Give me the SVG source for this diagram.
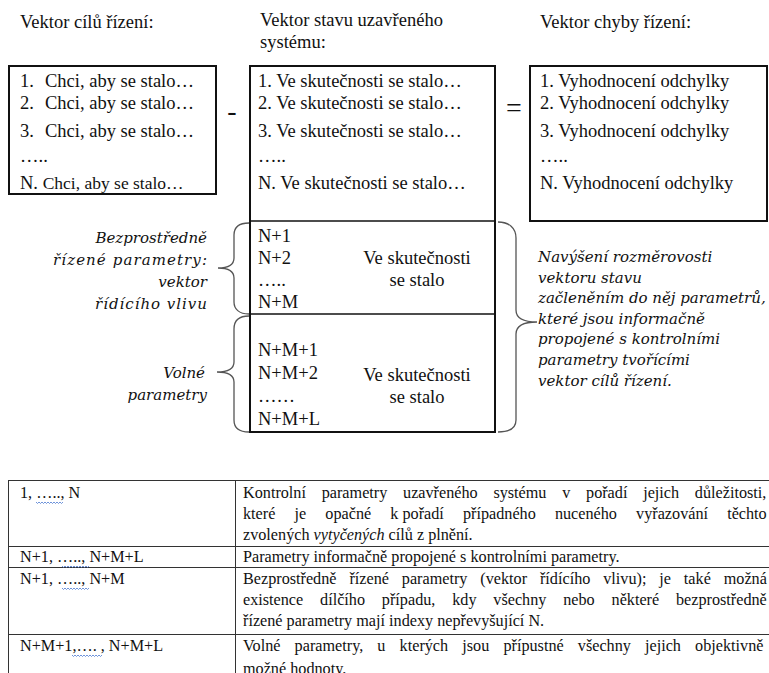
<svg xmlns="http://www.w3.org/2000/svg" width="769" height="673" viewBox="0 0 769 673">
<style>
  .t{font-family:"Liberation Serif","Times New Roman",serif;font-size:18.5px;fill:#111}
  .s{font-family:"Liberation Serif","Times New Roman",serif;font-size:16.2px;fill:#111}
  .it{font-family:"DejaVu Serif",serif;font-style:italic;font-size:15px;fill:#111}
  .box{fill:#fff;stroke:#111;stroke-width:2}
  .div{stroke:#111;stroke-width:1.5;fill:none}
  .brace{fill:none;stroke:#555;stroke-width:1.3}
  .tl{stroke:#333;stroke-width:1;fill:none}
  .wavy{fill:none;stroke:#4a78d0;stroke-width:0.8}
</style>
<rect width="769" height="673" fill="#fff"/>

<g id="goal-vector">
  <text class="t" x="20" y="28">Vektor cílů řízení:</text>
  <rect class="box" x="9" y="66" width="207" height="128"/>
  <text class="t" x="20" y="87">1.<tspan x="45">Chci, aby se stalo…</tspan></text>
  <text class="t" x="20" y="109">2.<tspan x="45">Chci, aby se stalo…</tspan></text>
  <text class="t" x="20" y="137">3.<tspan x="45">Chci, aby se stalo…</tspan></text>
  <text class="t" x="20" y="162">…..</text>
  <text class="t" x="20" y="189">N. <tspan style="font-size:17.5px">Chci, aby se stalo…</tspan></text>
</g>

<g id="op-minus">
  <text class="t" x="232" y="120" text-anchor="middle" style="font-size:28px">-</text>
</g>

<g id="state-vector">
  <text class="t" x="260" y="26">Vektor stavu uzavřeného</text>
  <text class="t" x="260" y="48">systému:</text>
  <rect class="box" x="250" y="66" width="245" height="366"/>
  <line class="div" x1="250" y1="221" x2="495" y2="221"/>
  <line class="div" x1="250" y1="314" x2="495" y2="314"/>
  <text class="t" x="258" y="87">1. Ve skutečnosti se stalo…</text>
  <text class="t" x="258" y="109">2. Ve skutečnosti se stalo…</text>
  <text class="t" x="258" y="137">3. Ve skutečnosti se stalo…</text>
  <text class="t" x="258" y="162">…..</text>
  <text class="t" x="258" y="189">N. Ve skutečnosti se stalo…</text>
  <text class="t" x="258" y="242">N+1</text>
  <text class="t" x="258" y="264">N+2</text>
  <text class="t" x="258" y="286">…..</text>
  <text class="t" x="258" y="308">N+M</text>
  <text class="t" x="417" y="264" text-anchor="middle">Ve skutečnosti</text>
  <text class="t" x="417" y="286" text-anchor="middle">se stalo</text>
  <text class="t" x="258" y="356">N+M+1</text>
  <text class="t" x="258" y="379">N+M+2</text>
  <text class="t" x="258" y="402">……</text>
  <text class="t" x="258" y="425">N+M+L</text>
  <text class="t" x="417" y="381" text-anchor="middle">Ve skutečnosti</text>
  <text class="t" x="417" y="403" text-anchor="middle">se stalo</text>
</g>

<g id="op-equals">
  <text class="t" x="514" y="117" text-anchor="middle" style="font-size:28px">=</text>
</g>

<g id="error-vector">
  <text class="t" x="540" y="28">Vektor chyby řízení:</text>
  <rect class="box" x="530" y="66" width="237" height="155"/>
  <text class="t" x="540" y="87">1. Vyhodnocení odchylky</text>
  <text class="t" x="540" y="109">2. Vyhodnocení odchylky</text>
  <text class="t" x="540" y="137">3. Vyhodnocení odchylky</text>
  <text class="t" x="540" y="162">…..</text>
  <text class="t" x="540" y="189">N. Vyhodnocení odchylky</text>
</g>

<g id="label-direct">
  <text class="it" x="207" y="243" text-anchor="end">Bezprostředně</text>
  <text class="it" x="53" y="265" textLength="154" lengthAdjust="spacing">řízené parametry:</text>
  <text class="it" x="207" y="287" text-anchor="end">vektor</text>
  <text class="it" x="95" y="309" textLength="112" lengthAdjust="spacing">řídícího vlivu</text>
</g>

<g id="label-free">
  <text class="it" x="205" y="378" text-anchor="end">Volné</text>
  <text class="it" x="207" y="400" text-anchor="end">parametry</text>
</g>

<g id="note-right">
  <text class="it" x="538" y="262">Navýšení rozměrovosti</text>
  <text class="it" x="538" y="283">vektoru stavu</text>
  <text class="it" x="538" y="303">začleněním do něj parametrů,</text>
  <text class="it" x="538" y="324">které jsou informačně</text>
  <text class="it" x="538" y="344">propojené s kontrolními</text>
  <text class="it" x="538" y="365">parametry tvořícími</text>
  <text class="it" x="538" y="386">vektor cílů řízení.</text>
</g>

<g id="connectors">
  <path class="brace" d="M249,223 C239,223 234,227 234,235 L234,258 C234,264 229,268 218,268 C229,268 234,272 234,278 L234,302 C234,309 239,314 249,314"/>
  <path class="brace" d="M249,316 C239,316 234,321 234,329 L234,362 C234,368 229,372 217,372 C229,372 234,376 234,382 L234,420 C234,428 239,432 249,432"/>
  <path class="brace" d="M498,222 C509,222 516,228 516,238 L516,310 C516,317 522,322 537,322 C522,322 516,327 516,334 L516,420 C516,428 509,432 498,432"/>
</g>

<g id="table">
  <line class="tl" x1="8" y1="480.5" x2="769" y2="480.5"/>
  <line class="tl" x1="8" y1="546.5" x2="769" y2="546.5"/>
  <line class="tl" x1="8" y1="567.5" x2="769" y2="567.5"/>
  <line class="tl" x1="8" y1="634.5" x2="769" y2="634.5"/>
  <line class="tl" x1="8.5" y1="480" x2="8.5" y2="673"/>
  <line class="tl" x1="235.5" y1="480" x2="235.5" y2="673"/>

  <text class="s" x="20" y="498">1, ….., N</text>
  <path class="wavy" d="M36,502 l1.5,1.5 l1.5,-1.5 l1.5,1.5 l1.5,-1.5 l1.5,1.5 l1.5,-1.5 l1.5,1.5 l1.5,-1.5 l1.5,1.5 l1.5,-1.5 l1.5,1.5 l1.5,-1.5 l1.5,1.5 l1.5,-1.5 l1.5,1.5 l1.5,-1.5 l1.5,1.5 l1.5,-1.5"/>
  <text class="s" x="243" y="498" style="word-spacing:11.7px">Kontrolní parametry uzavřeného systému v pořadí jejich důležitosti,</text>
  <text class="s" x="243" y="519" style="word-spacing:15.1px">které je opačné <tspan style="word-spacing:0">k pořadí</tspan> případného nuceného vyřazování těchto</text>
  <text class="s" x="243" y="540">zvolených <tspan font-style="italic">vytyčených</tspan> cílů z plnění.</text>

  <text class="s" x="20" y="562">N+1, ….., N+M+L</text>
  <path class="wavy" d="M62,566 l1.5,1.5 l1.5,-1.5 l1.5,1.5 l1.5,-1.5 l1.5,1.5 l1.5,-1.5 l1.5,1.5 l1.5,-1.5 l1.5,1.5 l1.5,-1.5 l1.5,1.5 l1.5,-1.5 l1.5,1.5 l1.5,-1.5 l1.5,1.5 l1.5,-1.5 l1.5,1.5 l1.5,-1.5"/>
  <text class="s" x="243" y="562">Parametry informačně propojené s kontrolními parametry.</text>

  <text class="s" x="20" y="584">N+1, ….., N+M</text>
  <path class="wavy" d="M62,588 l1.5,1.5 l1.5,-1.5 l1.5,1.5 l1.5,-1.5 l1.5,1.5 l1.5,-1.5 l1.5,1.5 l1.5,-1.5 l1.5,1.5 l1.5,-1.5 l1.5,1.5 l1.5,-1.5 l1.5,1.5 l1.5,-1.5 l1.5,1.5 l1.5,-1.5 l1.5,1.5 l1.5,-1.5"/>
  <text class="s" x="243" y="584" style="word-spacing:8.85px">Bezprostředně řízené parametry (vektor řídícího vlivu); je také možná</text>
  <text class="s" x="243" y="605" style="word-spacing:12.8px">existence dílčího případu, kdy všechny nebo některé bezprostředně</text>
  <text class="s" x="243" y="626">řízené parametry mají indexy nepřevyšující N.</text>

  <text class="s" x="20" y="651">N+M+1,…. , N+M+L</text>
  <path class="wavy" d="M72,655 l1.5,1.5 l1.5,-1.5 l1.5,1.5 l1.5,-1.5 l1.5,1.5 l1.5,-1.5 l1.5,1.5 l1.5,-1.5 l1.5,1.5 l1.5,-1.5 l1.5,1.5 l1.5,-1.5 l1.5,1.5 l1.5,-1.5 l1.5,1.5 l1.5,-1.5 l1.5,1.5 l1.5,-1.5 l1.5,1.5 l1.5,-1.5"/>
  <text class="s" x="243" y="651" style="word-spacing:10.1px">Volné parametry, u kterých jsou přípustné všechny jejich objektivně</text>
  <text class="s" x="243" y="674">možné hodnoty.</text>
</g>
</svg>
